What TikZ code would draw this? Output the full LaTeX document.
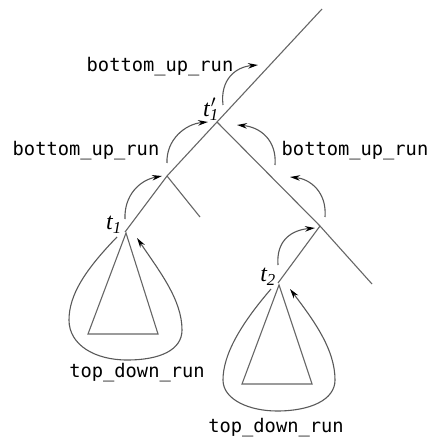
\documentclass[tikz,border=0pt]{standalone}
\usepackage{fontspec}
\setmainfont{Liberation Serif}
\setmonofont{DejaVu Sans Mono}
\usetikzlibrary{arrows.meta}
\begin{document}
\begin{tikzpicture}[x=1bp,y={(0bp,-1bp)},
  edge/.style={draw=black!60,line width=1.1bp},
  run/.style={draw=black!65,line width=1.1bp,-{Stealth[length=10bp,width=5.5bp,color=black]}},
  lbl/.style={font=\ttfamily\fontsize{18.8}{21}\selectfont,inner sep=0pt},
  tl/.style={font=\itshape\fontsize{24}{26}\selectfont,inner sep=0pt}]
\useasboundingbox (0,0) rectangle (432,437);
% tree points
\coordinate (top) at (322,9);
\coordinate (tp) at (217,122);
\coordinate (m1) at (167,176);
\coordinate (m1e) at (200,217);
\coordinate (t1) at (125,232);
\coordinate (m2) at (320,226);
\coordinate (re) at (372,284);
\coordinate (t2) at (278,283);
% triangles
\coordinate (a1) at (126,233);
\coordinate (b1l) at (88,334);
\coordinate (b1r) at (158,334);
\coordinate (a2) at (279,285);
\coordinate (b2l) at (242,384);
\coordinate (b2r) at (312,384);
\draw[edge] (t1) -- (m1) -- (tp) -- (top);
\draw[edge] (m1) -- (m1e);
\draw[edge] (tp) -- (m2) -- (re);
\draw[edge] (m2) -- (t2);
\draw[edge] (a1) -- (b1l) -- (b1r) -- cycle;
\draw[edge] (a2) -- (b2l) -- (b2r) -- cycle;
% labels
\node[tl] (lt1) at (114,225) {t\textsubscript{1}};
\node[tl] (ltp) at (211,109) {t\rlap{\kern1pt$^{\prime}$}\textsubscript{1}};
\node[tl] (lt2) at (268,277) {t\textsubscript{2}};
\node[lbl] (bu1) at (160,67) {bottom\_up\_run};
\node[lbl] (bu2) at (86,151) {bottom\_up\_run};
\node[lbl] (bu3) at (355,151) {bottom\_up\_run};
\node[lbl] (td1) at (137,373) {top\_down\_run};
\node[lbl] (td2) at (276,428) {top\_down\_run};
% loop arrows
\coordinate (s1) at (117,237);
\coordinate (e1) at (137,238);
\draw[run] (s1) .. controls (85,270) and (69,295) .. (69,320)
  .. controls (69,345) and (95,360) .. (127,360)
  .. controls (160,360) and (182,350) .. (182,330)
  .. controls (182,300) and (160,272) .. (e1);
\coordinate (s2) at (271,289);
\coordinate (e2) at (290,289);
\draw[run] (s2) .. controls (240,325) and (223,355) .. (223,380)
  .. controls (223,400) and (250,411) .. (277,411)
  .. controls (310,411) and (335,400) .. (335,380)
  .. controls (335,350) and (315,322) .. (e2);
% bottom-up arcs
\coordinate (u1s) at (125,219); \coordinate (u1e) at (162,176);
\coordinate (u2s) at (167,163); \coordinate (u2e) at (208,122);
\coordinate (u3s) at (223,105); \coordinate (u3e) at (258,65);
\coordinate (u4s) at (275,165); \coordinate (u4e) at (237,125);
\coordinate (u5s) at (325,217); \coordinate (u5e) at (290,177);
\coordinate (u6s) at (278,265); \coordinate (u6e) at (315,228);
\draw[run] (u1s) .. controls (124,195) and (140,180) .. (u1e);
\draw[run] (u2s) .. controls (166,140) and (185,124) .. (u2e);
\draw[run] (u3s) .. controls (220,80) and (235,67) .. (u3e);
\draw[run] (u4s) .. controls (277,140) and (260,127) .. (u4e);
\draw[run] (u5s) .. controls (327,192) and (310,179) .. (u5e);
\draw[run] (u6s) .. controls (276,240) and (292,230) .. (u6e);
\end{tikzpicture}
\end{document}
